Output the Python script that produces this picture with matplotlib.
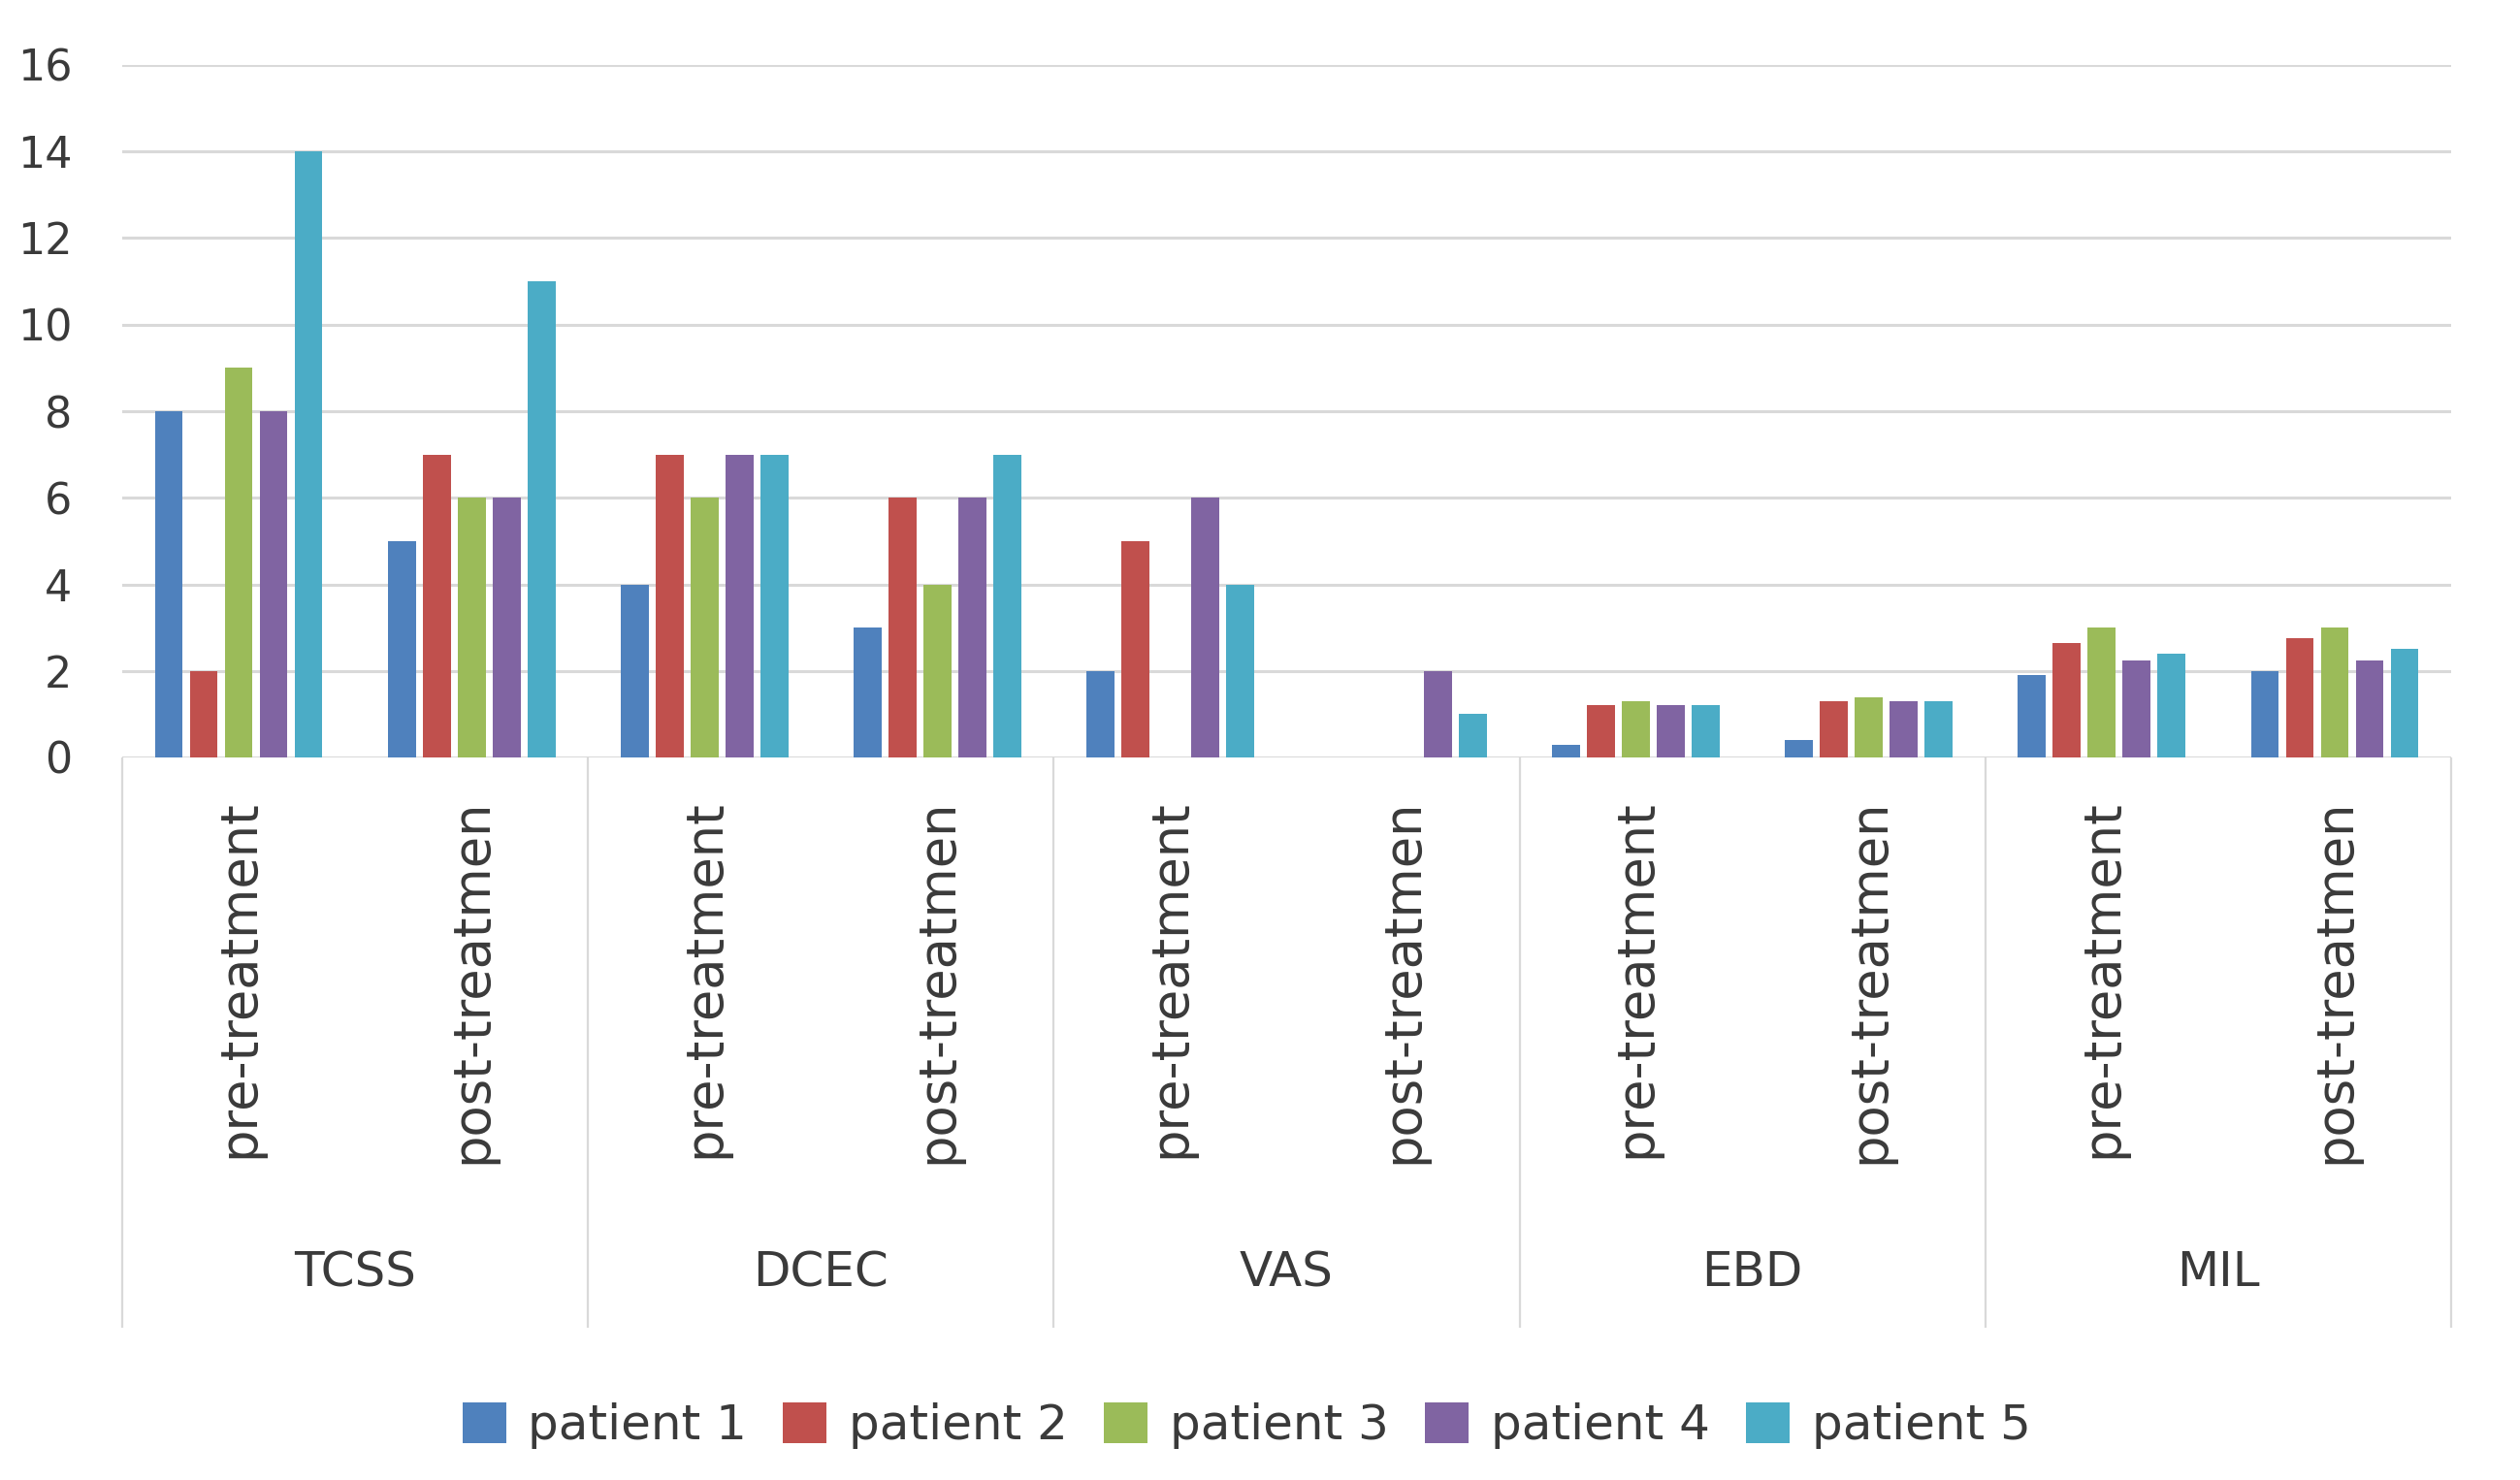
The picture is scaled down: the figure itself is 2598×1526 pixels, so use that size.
import matplotlib.pyplot as plt
from matplotlib.patches import Patch

# data
measures = ["TCSS", "DCEC", "VAS", "EBD", "MIL"]
phases = ["pre-treatment", "post-treatmen"]
patients = ["patient 1", "patient 2", "patient 3", "patient 4", "patient 5"]

# one list per patient, order: TCSS pre/post, DCEC pre/post, VAS pre/post, EBD pre/post, MIL pre/post
patient1 = [8, 5, 4, 3, 2, 0, 0.3, 0.4, 1.9, 2.0]
patient2 = [2, 7, 7, 6, 5, 0, 1.2, 1.3, 2.65, 2.75]
patient3 = [9, 6, 6, 4, 0, 0, 1.3, 1.4, 3.0, 3.0]
patient4 = [8, 6, 7, 6, 6, 2, 1.2, 1.3, 2.25, 2.25]
patient5 = [14, 11, 7, 7, 4, 1, 1.2, 1.3, 2.4, 2.5]
series = [patient1, patient2, patient3, patient4, patient5]

colors = ["#4F81BD", "#C0504D", "#9BBB59", "#8064A2", "#4BACC6"]
grid_col = "#D9D9D9"
text_col = "#3A3A3A"

W, H = 2598, 1526
fig = plt.figure(figsize=(W / 100, H / 100), dpi=100)
# axes box in pixels: left 126, right 2527, y=0 at 781, y=16 at 67
ax = fig.add_axes([126 / W, 1 - 781 / H, (2527 - 126) / W, (781 - 67) / H])
ax_h = 781 - 67

n_groups = len(measures) * len(phases)
step = 0.15
width = 0.12
for j, vals in enumerate(series):
    xs = [i + (j - 2) * step for i in range(n_groups)]
    ax.bar(xs, vals, width=width, color=colors[j], zorder=3)

ax.set_xlim(-0.5, n_groups - 0.5)
ax.set_ylim(0, 16)
ax.set_yticks(range(0, 17, 2))
ax.set_xticks([])
ax.yaxis.grid(True, color=grid_col, linewidth=2.2, zorder=0)
ax.tick_params(axis="y", length=0, pad=37, labelsize=32, labelcolor=text_col)
for s in ax.spines.values():
    s.set_visible(False)

# vertical separators between measures, running down under the axis
xt = ax.get_xaxis_transform()
sep_bottom = -(1369 - 781) / ax_h
seps = [k * len(phases) - 0.5 for k in range(len(measures) + 1)]
ax.vlines(seps, sep_bottom, 0, transform=xt, colors=grid_col, linewidth=1.6, clip_on=False)

# rotated phase labels
lab_top = -(824 - 781) / ax_h
for i in range(n_groups):
    ax.text(i, lab_top, phases[i % 2], rotation=90, ha="center", va="top",
            transform=xt, fontsize=38, color=text_col)

# measure labels
cat_y = -(1312 - 781) / ax_h
for k, m in enumerate(measures):
    ax.text(k * 2 + 0.5, cat_y, m, ha="center", va="center",
            transform=xt, fontsize=36, color=text_col)

handles = [Patch(facecolor=c, edgecolor="none") for c in colors]
fig.legend(handles, patients, loc="center", bbox_to_anchor=(1285 / W, 1 - 1470 / H),
           ncol=5, frameon=False, fontsize=36, handlelength=0.9, handleheight=0.9,
           handletextpad=0.45, columnspacing=0.75, labelcolor=text_col)

fig.savefig("out.png", dpi=100, facecolor="white")
